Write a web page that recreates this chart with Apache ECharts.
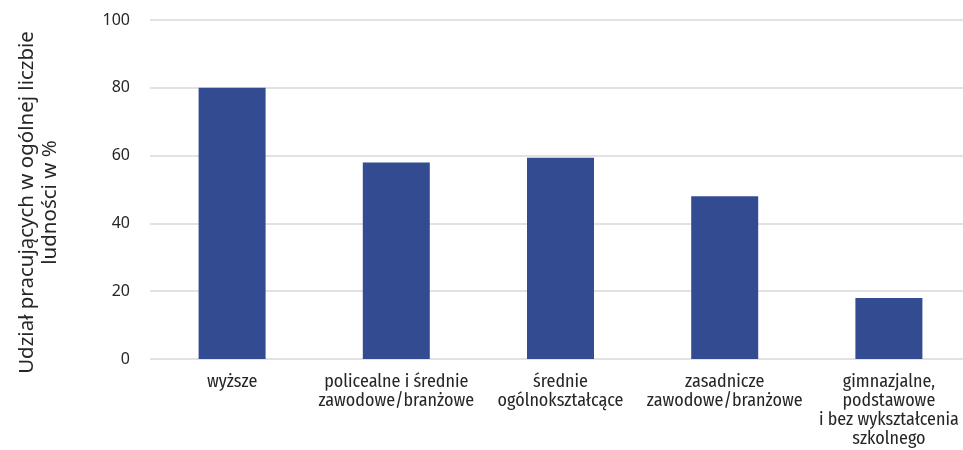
<!DOCTYPE html>
<html><head><meta charset="utf-8">
<script src="https://cdn.jsdelivr.net/npm/echarts@6/dist/echarts.min.js"></script>
<style>html,body{margin:0;padding:0;background:#fff}#c{width:963px;height:450px}</style>
</head><body><div id="c"></div>
<script>
const categories = ["wyższe", "policealne i średnie\nzawodowe/branżowe", "średnie\nogólnokształcące", "zasadnicze\nzawodowe/branżowe", "gimnazjalne,\npodstawowe\ni bez wykształcenia\nszkolnego"];
const values = [80, 58, 59.4, 48, 18];
const yTicks = { min: 0, max: 100, interval: 20 };
const yName = "Udział pracujących w ogólnej liczbie\nludności w %";
const FONT = '"Fira Sans Condensed", "Liberation Sans Narrow", "DejaVu Sans Condensed", sans-serif';
const FONT2 = '"Noto Sans", "Open Sans", sans-serif';
const chart = echarts.init(document.getElementById('c'));
chart.setOption({
  animation: false,
  grid: { left: 150, width: 821, top: 20, bottom: 91, containLabel: false, outerBoundsMode: 'none' },
  xAxis: {
    type: 'category', data: categories,
    axisLine: { show: false }, axisTick: { show: false },
    axisLabel: { color: '#262626', fontSize: 18, fontFamily: FONT, lineHeight: 19, margin: 13, interval: 0 }
  },
  yAxis: {
    type: 'value', min: yTicks.min, max: yTicks.max, interval: yTicks.interval,
    name: yName, nameLocation: 'middle', nameGap: 88, nameRotate: 90,
    nameTextStyle: { color: '#262626', fontSize: 20.5, fontFamily: FONT2, lineHeight: 23, padding: [0, 26, 0, 0] },
    axisLine: { show: false }, axisTick: { show: false },
    axisLabel: { color: '#262626', fontSize: 16, fontFamily: FONT2, margin: 20 },
    splitLine: { lineStyle: { color: '#d9d9d9', width: 1.5 } }
  },
  series: [{
    type: 'bar', data: values, barWidth: 67,
    itemStyle: { color: '#334b91' }
  }]
});
</script></body></html>
